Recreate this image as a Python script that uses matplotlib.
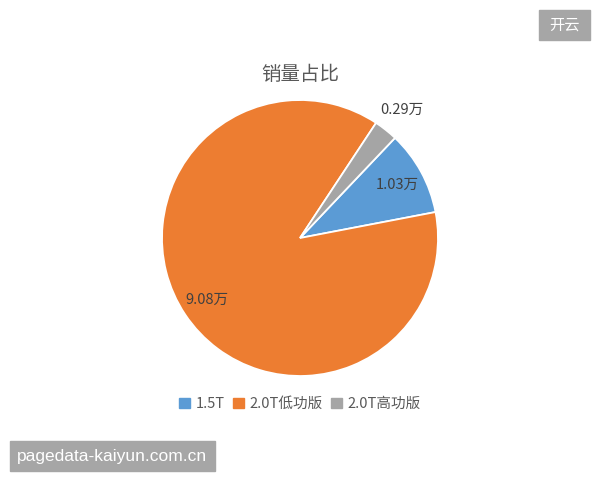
import matplotlib.pyplot as plt
from matplotlib.patches import Rectangle
import numpy as np

plt.rcParams['font.family'] = ['Noto Sans CJK SC', 'DejaVu Sans']

labels = ["1.5T", "2.0T低功版", "2.0T高功版"]
values = [1.03, 9.08, 0.29]
value_text = ["1.03万", "9.08万", "0.29万"]
colors = ["#5B9BD5", "#ED7D31", "#A5A5A5"]
label_dist = [0.80, 0.81, 1.19]

fig = plt.figure(figsize=(6, 4.8), dpi=100)
W, H = 600, 480
cx, cy, r = 300, 238, 138
ax = fig.add_axes([(cx - r) / W, (H - cy - r) / H, 2 * r / W, 2 * r / H])

wedges, _ = ax.pie(values, colors=colors, startangle=46.5, counterclock=False,
                   radius=1, wedgeprops=dict(edgecolor="white", linewidth=1.3))
ax.set_xlim(-1, 1)
ax.set_ylim(-1, 1)
ax.set_aspect("equal")

for w, t, d in zip(wedges, value_text, label_dist):
    a = np.deg2rad((w.theta1 + w.theta2) / 2)
    ax.text(d * np.cos(a), d * np.sin(a), t, ha="center", va="center",
            fontsize=10.5, color="#404040")

fig.text(300 / W, 1 - 75 / H, "销量占比", ha="center", va="center",
         fontsize=14, color="#595959")

handles = [Rectangle((0, 0), 1, 1, color=c) for c in colors]
fig.legend(handles, labels, loc="center", bbox_to_anchor=(300 / W, 1 - 404 / H),
           ncol=3, frameon=False, fontsize=10.5, handlelength=0.7, handleheight=0.7,
           handletextpad=0.4, columnspacing=0.6, labelcolor="#595959")

# watermarks
fig.patches.append(Rectangle((539 / W, 1 - 40 / H), 51 / W, 30 / H,
                             transform=fig.transFigure, color="#A6A6A6"))
fig.text(564.5 / W, 1 - 25 / H, "开云", ha="center", va="center",
         fontsize=11, color="white")
fig.patches.append(Rectangle((10 / W, 1 - 471 / H), 205 / W, 30 / H,
                             transform=fig.transFigure, color="#A6A6A6"))
fig.text(17 / W, 1 - 456 / H, "pagedata-kaiyun.com.cn", ha="left", va="center",
         fontsize=12.5, color="white", family="Liberation Sans")

fig.savefig("out.png", dpi=100, facecolor="white")
